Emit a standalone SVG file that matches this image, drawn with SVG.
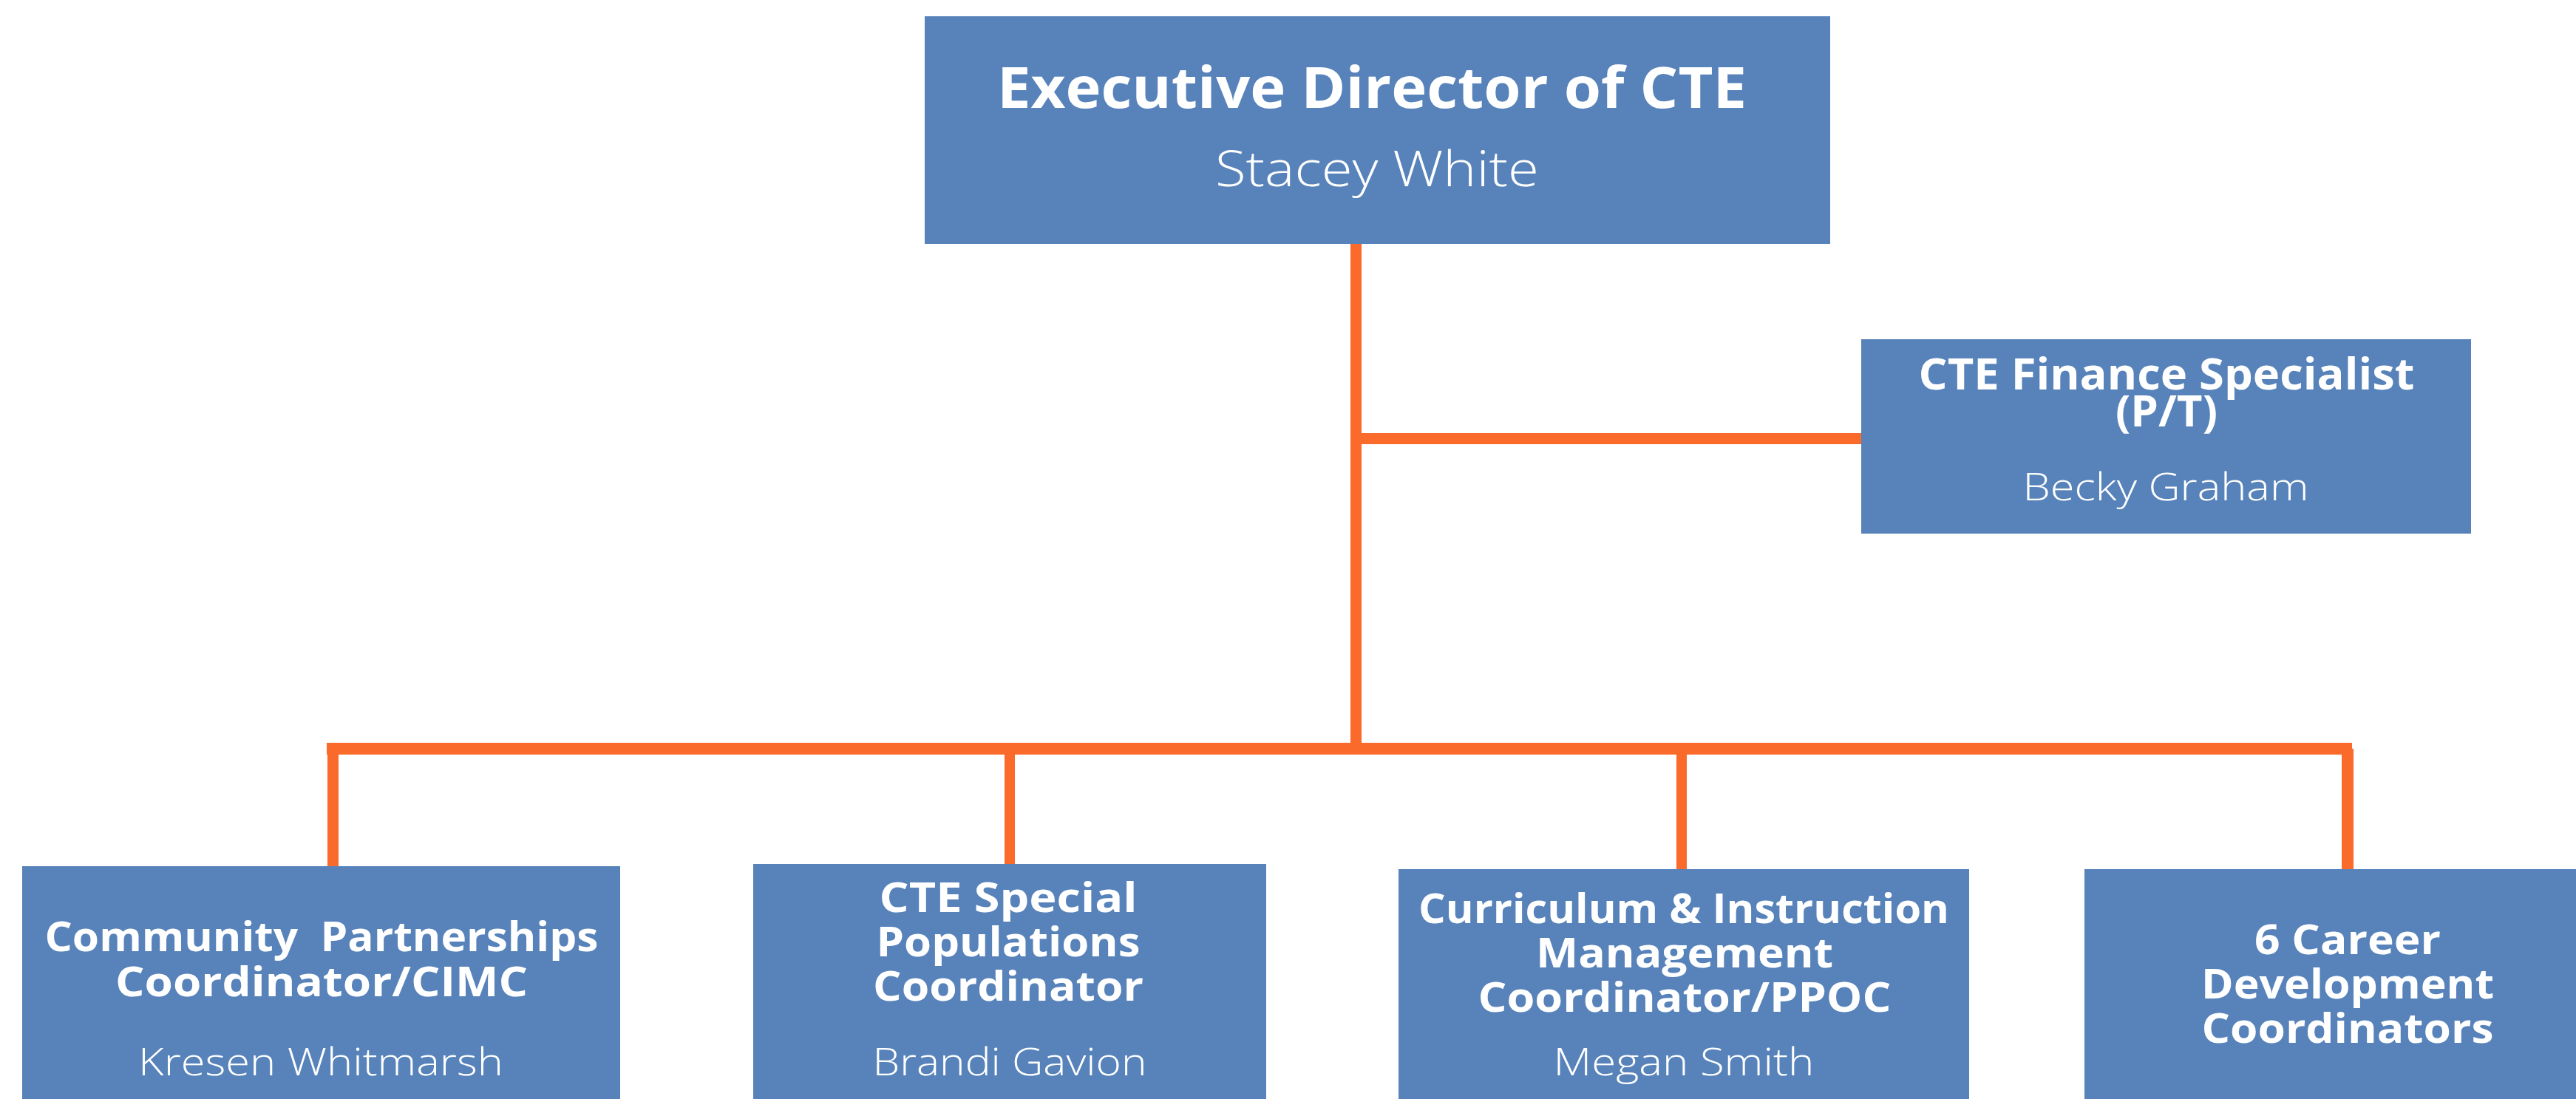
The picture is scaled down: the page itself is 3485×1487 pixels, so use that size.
<svg xmlns="http://www.w3.org/2000/svg" width="3485" height="1487" viewBox="0 0 3485 1487">
<style>
.box{fill:#5783BA}
.ln{fill:#F96A2B}
.t{font-family:"Open Sans","Liberation Sans",sans-serif;font-weight:700;fill:#FFFFFF;text-anchor:middle}
.n{font-family:"Open Sans","Liberation Sans",sans-serif;font-weight:300;fill:#FFFFFF;text-anchor:middle}
</style>
<rect width="3485" height="1487" fill="#FFFFFF"/>
<g id="connectors">
<rect class="ln" x="1827" y="329" width="15" height="692"/>
<rect class="ln" x="1827" y="586" width="692" height="15"/>
<rect class="ln" x="442" y="1005" width="2740" height="16"/>
<rect class="ln" x="443" y="1005" width="15" height="168"/>
<rect class="ln" x="1359" y="1005" width="14" height="165"/>
<rect class="ln" x="2268" y="1005" width="14" height="172"/>
<rect class="ln" x="3168" y="1013" width="16" height="164"/>
</g>
<g id="executive-director">
<rect class="box" x="1251" y="22" width="1225" height="308"/>
<text class="t" x="1856" y="146" font-size="77" textLength="1014" lengthAdjust="spacingAndGlyphs">Executive Director of CTE</text>
<text class="n" x="1863" y="252" font-size="66" textLength="438" lengthAdjust="spacingAndGlyphs">Stacey White</text>
</g>
<g id="finance-specialist">
<rect class="box" x="2518" y="459" width="825" height="263"/>
<text class="t" x="2931" y="527" font-size="59" textLength="671" lengthAdjust="spacingAndGlyphs">CTE Finance Specialist</text>
<text class="t" x="2931" y="577" font-size="59" textLength="138" lengthAdjust="spacingAndGlyphs">(P/T)</text>
<text class="n" x="2930" y="677" font-size="51" textLength="387" lengthAdjust="spacingAndGlyphs">Becky Graham</text>
</g>
<g id="community-partnerships">
<rect class="box" x="30" y="1172" width="809" height="315"/>
<text class="t" x="435" y="1287" font-size="56" textLength="749" lengthAdjust="spacingAndGlyphs" xml:space="preserve">Community  Partnerships</text>
<text class="t" x="435" y="1348" font-size="56" textLength="558" lengthAdjust="spacingAndGlyphs">Coordinator/CIMC</text>
<text class="n" x="434" y="1455" font-size="51" textLength="494" lengthAdjust="spacingAndGlyphs">Kresen Whitmarsh</text>
</g>
<g id="special-populations">
<rect class="box" x="1019" y="1169" width="694" height="318"/>
<text class="t" x="1364" y="1234" font-size="56" textLength="349" lengthAdjust="spacingAndGlyphs">CTE Special</text>
<text class="t" x="1364" y="1294" font-size="56" textLength="357" lengthAdjust="spacingAndGlyphs">Populations</text>
<text class="t" x="1364" y="1354" font-size="56" textLength="366" lengthAdjust="spacingAndGlyphs">Coordinator</text>
<text class="n" x="1366" y="1455" font-size="51" textLength="371" lengthAdjust="spacingAndGlyphs">Brandi Gavion</text>
</g>
<g id="curriculum-instruction">
<rect class="box" x="1892" y="1176" width="772" height="311"/>
<text class="t" x="2278" y="1249" font-size="56" textLength="718" lengthAdjust="spacingAndGlyphs">Curriculum &amp; Instruction</text>
<text class="t" x="2279" y="1309" font-size="56" textLength="402" lengthAdjust="spacingAndGlyphs">Management</text>
<text class="t" x="2279" y="1369" font-size="56" textLength="559" lengthAdjust="spacingAndGlyphs">Coordinator/PPOC</text>
<text class="n" x="2278" y="1455" font-size="51" textLength="353" lengthAdjust="spacingAndGlyphs">Megan Smith</text>
</g>
<g id="career-development">
<rect class="box" x="2820" y="1176" width="665" height="311"/>
<text class="t" x="3176" y="1291" font-size="56" textLength="252" lengthAdjust="spacingAndGlyphs">6 Career</text>
<text class="t" x="3176" y="1351" font-size="56" textLength="396" lengthAdjust="spacingAndGlyphs">Development</text>
<text class="t" x="3176" y="1411" font-size="56" textLength="395" lengthAdjust="spacingAndGlyphs">Coordinators</text>
</g>
</svg>
